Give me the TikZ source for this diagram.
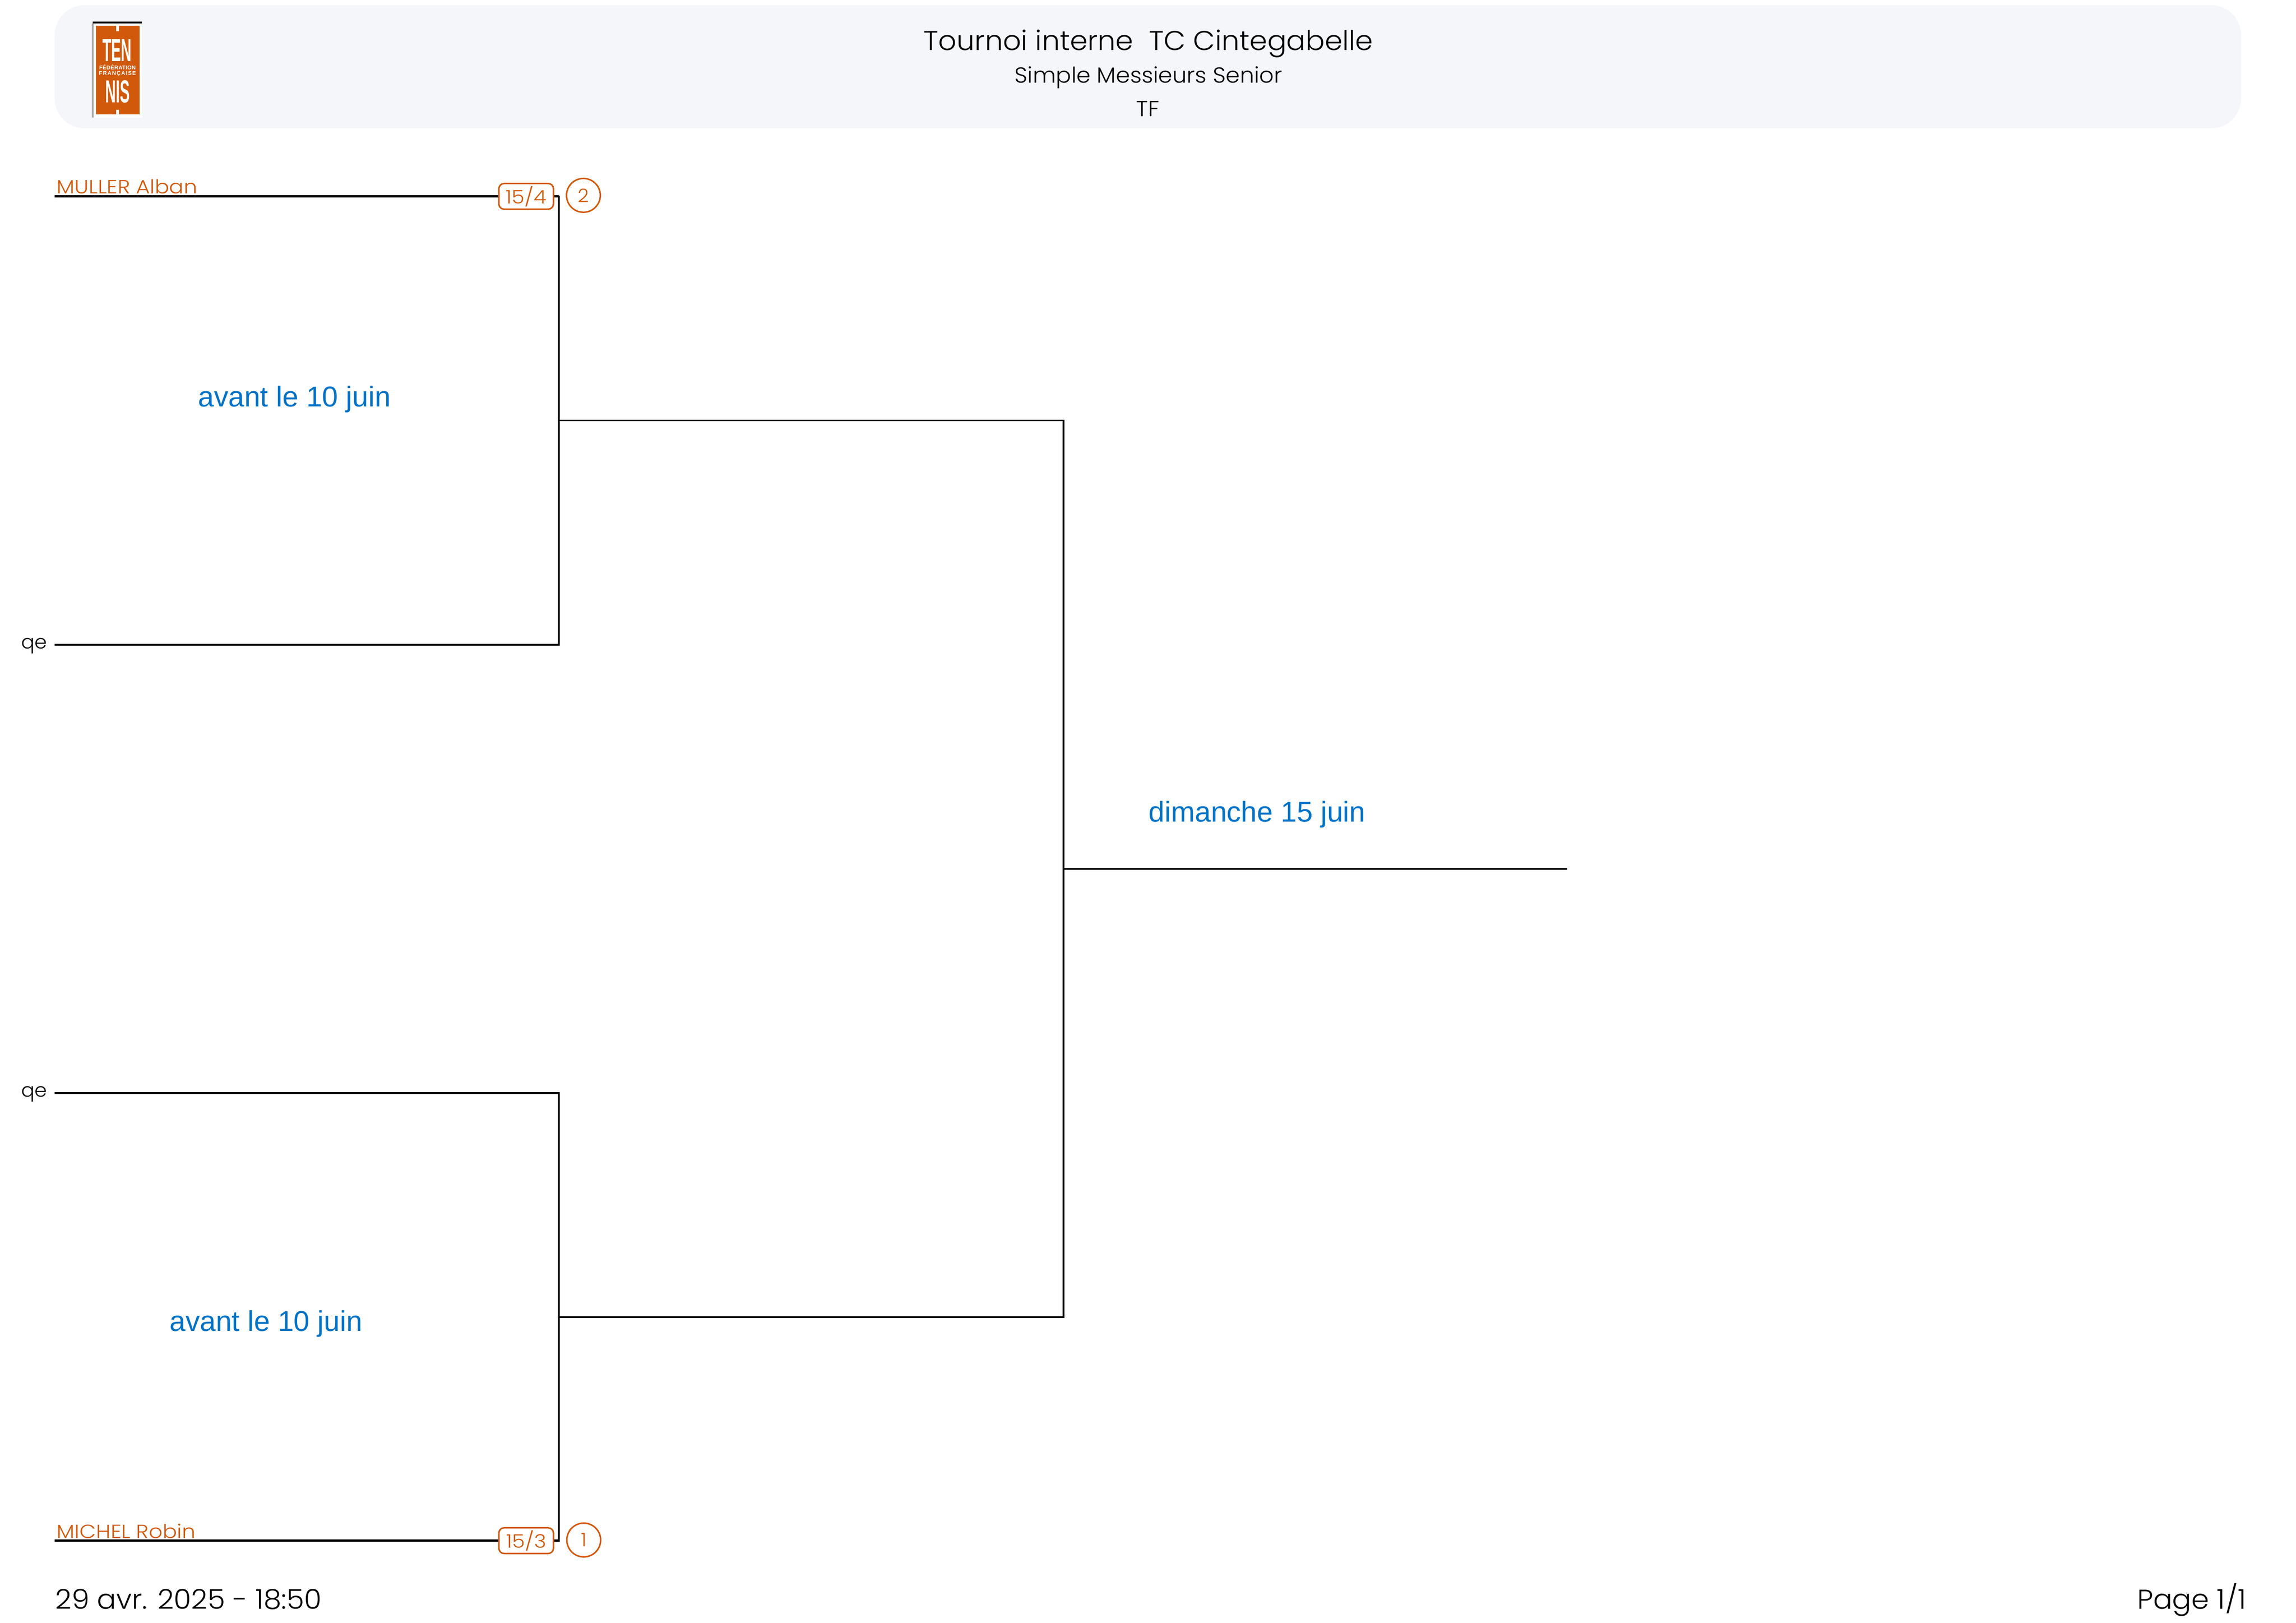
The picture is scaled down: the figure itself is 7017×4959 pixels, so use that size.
\documentclass[tikz,border=0pt]{standalone}
\usepackage{fontspec}
\setmainfont{Poppins}[UprightFont=* Light, FakeStretch=1.04]
\newfontfamily\namefont{Poppins}[UprightFont=* Light, FakeStretch=1.12]
\newfontfamily\arialfont{Liberation Sans}
\definecolor{fftorange}{HTML}{D1590B}
\definecolor{roundblue}{HTML}{0072C6}
\definecolor{headgrey}{HTML}{F5F6FA}
\tikzset{
    bracket/.style={black, line width=0.6pt},
    playerline/.style={black, line width=0.78pt},
    player/.style={anchor=base west, text=fftorange, inner sep=0pt, font=\namefont\fontsize{7}{8}\selectfont},
    ranking/.style={draw=fftorange, fill=white, text=fftorange, line width=0.55pt, rounded corners=1.9pt, minimum width=20pt, minimum height=9.4pt, inner sep=0pt, font=\namefont\fontsize{6.8}{8}\selectfont},
    seed/.style={circle, draw=fftorange, fill=white, text=fftorange, line width=0.55pt, minimum size=12.4pt, inner sep=0pt, font=\fontsize{6.8}{8}\selectfont},
    qualif/.style={anchor=base east, inner sep=0pt, font=\fontsize{7}{8}\selectfont},
    when/.style={anchor=base, text=roundblue, inner sep=0pt, font=\arialfont\fontsize{10.5}{12}\selectfont},
    headline/.style={anchor=base, inner sep=0pt, font=\fontsize{8}{10}\selectfont},
    footline/.style={inner sep=0pt, font=\fontsize{10}{12}\selectfont},
    logotext/.style={anchor=base, text=white, inner sep=0pt, font=\arialfont\bfseries\fontsize{11.7}{12}\selectfont},
    logosmall/.style={anchor=base, text=white, inner sep=0pt, font=\arialfont\bfseries\fontsize{2}{2}\selectfont}
}
\begin{document}
\begin{tikzpicture}[x=0.12pt, y=-0.12pt]
    \useasboundingbox (0,0) rectangle (7017,4959);
    \fill[white] (0,0) rectangle (7017,4959);

    % header
    \fill[headgrey, rounded corners=11pt] (167,16) rectangle (6849,392);
    \fill[white] (283,66) rectangle (433,359);
    \fill[black] (283,66) rectangle (433,71);
    \fill[black] (283,66) rectangle (285,359);
    \fill[fftorange] (293,79) rectangle (426,350);
    \fill[white] (355,79) rectangle (363,95);
    \fill[white] (355,336) rectangle (363,350);
    \node[logotext] (logoten) at (358,187) {\scalebox{0.46}[1]{TEN}};
    \node[logosmall] (logofed) at (359,212) {\addfontfeature{LetterSpace=3}FÉDÉRATION};
    \node[logosmall] (logofra) at (359,230) {\addfontfeature{LetterSpace=12}FRANÇAISE};
    \node[logotext] (logonis) at (360,313) {\scalebox{0.46}[1]{NIS}};
    \node[headline, font=\fontsize{10}{12}\selectfont] (title) at (3510,153) {Tournoi interne\ \ TC Cintegabelle};
    \node[headline] (event) at (3510,253) {Simple Messieurs Senior};
    \node[headline] (draw) at (3508,356) {TF};

    % bracket points
    \coordinate (startA) at (167,600);
    \coordinate (startB) at (167,1970);
    \coordinate (startC) at (167,3340);
    \coordinate (startD) at (167,4708);
    \coordinate (cornerA) at (1708,600);
    \coordinate (cornerB) at (1708,1970);
    \coordinate (cornerC) at (1708,3340);
    \coordinate (cornerD) at (1708,4708);
    \coordinate (semiA) at (1708,1285);
    \coordinate (semiB) at (1708,4025);
    \coordinate (semiAend) at (3250,1285);
    \coordinate (semiBend) at (3250,4025);
    \coordinate (final) at (3250,2655);
    \coordinate (finalend) at (4790,2655);

    \node[ranking] (rankA) at (1608,600) {15/4};
    \node[ranking] (rankD) at (1608,4708) {15/3};

    \draw[playerline] (startA) -- (rankA);
    \draw[playerline] (rankA) -- (cornerA);
    \draw[bracket] (startB) -- (cornerB);
    \draw[bracket] (startC) -- (cornerC);
    \draw[playerline] (startD) -- (rankD);
    \draw[playerline] (rankD) -- (cornerD);
    \draw[bracket, line cap=rect] (cornerA) -- (cornerB);
    \draw[bracket, line cap=rect] (cornerC) -- (cornerD);
    \draw[bracket] (semiA) -- (semiAend);
    \draw[bracket] (semiB) -- (semiBend);
    \draw[bracket, line cap=rect] (semiAend) -- (semiBend);
    \draw[bracket] (final) -- (finalend);

    \node[seed] (seedA) at (1783,597) {2};
    \node[seed] (seedD) at (1784,4706) {1};

    \node[player] (muller) at (172,592) {MULLER Alban};
    \node[player] (michel) at (172,4700) {MICHEL Robin};
    \node[qualif] (qeB) at (146,1982) {qe};
    \node[qualif] (qeC) at (146,3352) {qe};

    \node[when] (whenA) at (900,1243) {avant le 10 juin};
    \node[when] (whenB) at (813,4068) {avant le 10 juin};
    \node[when] (whenF) at (3842,2511) {dimanche 15 juin};

    % footer
    \node[footline, anchor=base west] (stamp) at (168,4917) {29 avr. 2025 - 18:50};
    \node[footline, anchor=base east] (page) at (6866,4917) {Page 1/1};
\end{tikzpicture}
\end{document}
